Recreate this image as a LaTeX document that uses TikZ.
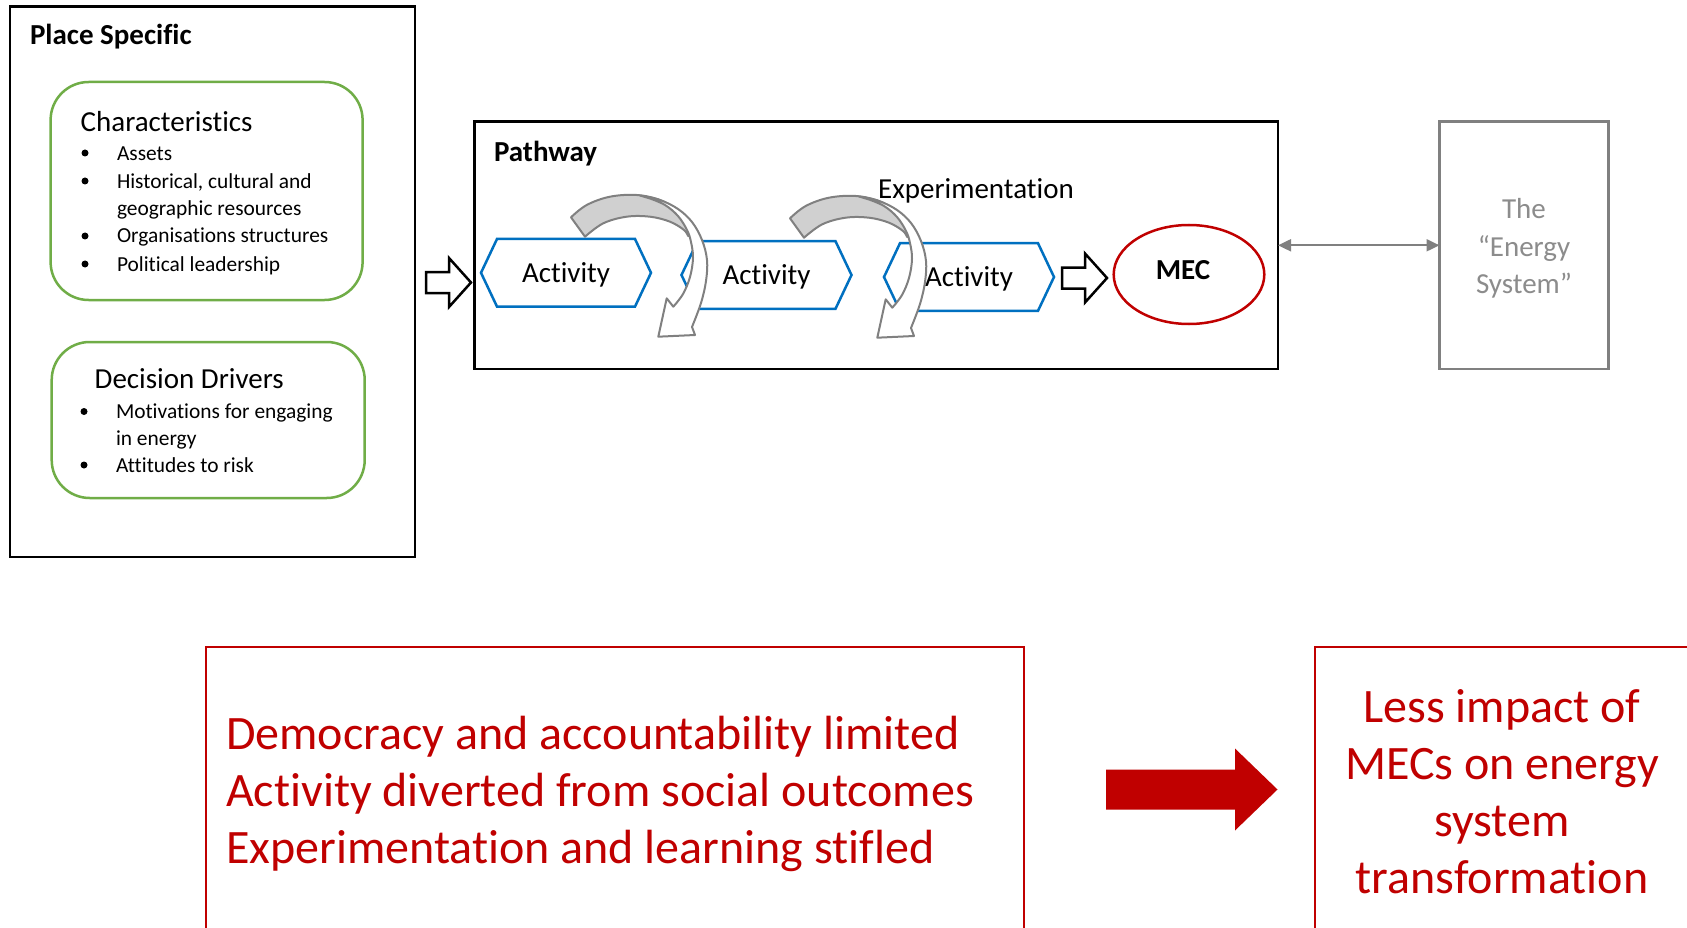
\documentclass[tikz,border=0pt]{standalone}
\usepackage{fontspec}
\setmainfont{Carlito}[Ligatures=NoCommon]
\usetikzlibrary{arrows.meta,shapes.geometric}
\definecolor{grn}{HTML}{70AD47}
\definecolor{blu}{HTML}{0070C0}
\definecolor{redc}{HTML}{C00000}
\definecolor{gry}{HTML}{808080}
\definecolor{lgry}{HTML}{D0D0D0}
\definecolor{txtgry}{HTML}{8C8C8C}
\newcommand\myfA{\fontsize{29pt}{35pt}\selectfont}
\newcommand\myfI{\fontsize{21.4pt}{27pt}\selectfont}
\newcommand\myfE{\fontsize{29pt}{37.7pt}\selectfont}
\newcommand\myfR{\fontsize{48pt}{57pt}\selectfont}
\newcommand\myhex[1]{\draw[actline] (#1.west) -- ([xshift=16pt]#1.north west) -- ([xshift=-16pt]#1.north east) -- (#1.east) -- ([xshift=-16pt]#1.south east) -- ([xshift=16pt]#1.south west) -- cycle;}
\newcommand\mycurved[1]{%
\begin{scope}[shift={#1}]
\filldraw[bandgray]
 plot[smooth, tension=0.6] coordinates {(571,217.3) (586.7,205) (610,196.7) (636.7,195) (660,200) (676.7,210) (690,223.3) (694,234)}
 -- plot[smooth, tension=0.6] coordinates {(688,236) (684,230) (670,221.7) (650,216.7) (626.7,216.7) (603.3,223.3) (585,236.7)} -- cycle;
\filldraw[bandwhite]
 plot[smooth, tension=0.6] coordinates {(640,195.5) (660,200) (678,209) (692,222) (702,240) (707,260) (706,281) (701,303) (692,327)}
 -- (695,335) -- (658.3,336.7) -- (666.7,298.3) -- (673.3,306.7)
 -- plot[smooth, tension=0.6] coordinates {(673.3,306.7) (683,294) (690,277) (693,258) (691,242) (687,230) (678,216) (665,205) (650,198.5)} -- cycle;
\end{scope}}
\tikzset{
 blackbox/.style={draw=black, line width=2.5pt, rectangle, inner sep=0pt, outer sep=0pt},
 greenbox/.style={draw=grn, line width=2.5pt, rectangle, rounded corners=38pt, inner sep=0pt, outer sep=0pt},
 txt/.style={inner sep=0pt, outer sep=0pt, text=black},
 bul/.style={circle, fill=black, inner sep=0pt, minimum size=7pt},
 actnode/.style={rectangle, inner sep=0pt, outer sep=0pt, minimum width=170pt, minimum height=67.6pt, text depth=0pt, font=\myfA},
 actline/.style={draw=blu, line width=2.5pt, line join=miter},
 openarrow/.style={draw=black, fill=white, line width=2.5pt, line join=miter},
 bandgray/.style={fill=lgry, draw=gry, line width=2pt, line join=round},
 bandwhite/.style={fill=white, draw=gry, line width=2pt, line join=round},
 redbox/.style={draw=redc, line width=2pt, rectangle, inner sep=0pt, outer sep=0pt},
 redtxt/.style={inner sep=0pt, text=redc, font=\myfR},
}
\begin{document}
\begin{tikzpicture}[x=1pt,y=-1pt]
\useasboundingbox (0,0) rectangle (1687,928);
\clip (0,0) rectangle (1687,928);
\fill[white] (0,0) rectangle (1687,928);

% Place specific
\node[blackbox, minimum width=405.3pt, minimum height=550.5pt] (place) at (212.4,281.8) {};
\node[txt, anchor=base west, font=\myfA\bfseries] (placetitle) at (30,45) {Place Specific};

\node[greenbox, minimum width=312pt, minimum height=218pt] (charbox) at (206.6,191) {};
\node[txt, anchor=base west, font=\myfA] (chartitle) at (80.7,131.5) {Characteristics};
\node[bul] (cb1) at (85,153) {};
\node[bul] (cb2) at (85,181) {};
\node[bul] (cb3) at (85,236) {};
\node[bul] (cb4) at (85,264) {};
\node[txt, anchor=base west, font=\myfI] (ci1) at (117,160.2) {Assets};
\node[txt, anchor=base west, font=\myfI] (ci2) at (117,188.2) {Historical, cultural and};
\node[txt, anchor=base west, font=\myfI] (ci2b) at (117,215.2) {geographic resources};
\node[txt, anchor=base west, font=\myfI] (ci3) at (117,243) {Organisations structures};
\node[txt, anchor=base west, font=\myfI] (ci4) at (117,271) {Political leadership};

\node[greenbox, minimum width=313pt, minimum height=156pt] (decbox) at (208.2,420) {};
\node[txt, anchor=base west, font=\myfA] (dectitle) at (94.7,388.5) {Decision Drivers};
\node[bul] (db1) at (84,411.5) {};
\node[bul] (db2) at (84,465) {};
\node[txt, anchor=base west, font=\myfI] (di1) at (116,418.5) {Motivations for engaging};
\node[txt, anchor=base west, font=\myfI] (di1b) at (116,445.5) {in energy};
\node[txt, anchor=base west, font=\myfI] (di2) at (116,472.2) {Attitudes to risk};

% Pathway
\node[blackbox, minimum width=803.5pt, minimum height=247.4pt] (path) at (876.25,245.3) {};
\node[txt, anchor=base west, font=\myfA\bfseries] (pathtitle) at (494,161.5) {Pathway};

\coordinate (oa1) at (426,282.5);
\draw[openarrow] (oa1) ++(0,-10.5) -- ++(23,0) -- ++(0,-14) -- ++(22,24.5) -- ++(-22,24.5) -- ++(0,-14) -- ++(-23,0) -- cycle;

\node[actnode] (act1) at (566,272.8) {Activity};
\node[actnode] (act2) at (766.5,275) {Activity};
\node[actnode] (act3) at (969,277) {Activity};
\myhex{act1}
\myhex{act2}
\myhex{act3}

\mycurved{(0,0)}
\mycurved{(219,1)}

\node[txt, anchor=base, font=\myfA] (exper) at (976,198.5) {Experimentation};

\coordinate (oa2) at (1062,278);
\draw[openarrow] (oa2) ++(0,-10.5) -- ++(23,0) -- ++(0,-14) -- ++(22,24.5) -- ++(-22,24.5) -- ++(0,-14) -- ++(-23,0) -- cycle;

\node[ellipse, draw=redc, line width=2.5pt, minimum width=150.6pt, minimum height=99pt, inner sep=0pt] (mec) at (1189,274.5) {};
\node[txt, font=\myfA\bfseries] (mectext) at ([xshift=-6pt,yshift=4pt]mec.center) {MEC};

% Energy system
\node[draw=gry, line width=2.5pt, rectangle, inner sep=0pt, outer sep=0pt, minimum width=169pt, minimum height=247.4pt] (energy) at (1524,245.3) {};
\node[txt, text=txtgry, align=center, font=\myfE] (energytext) at (1524,248.5) {The\\“Energy\\System”};
\draw[gry, line width=2pt, {Triangle[length=13pt,width=12pt]}-{Triangle[length=13pt,width=12pt]}] (path.east) -- (energy.west);

% Bottom
\node[redbox, anchor=north west, minimum width=818.5pt, minimum height=400pt] (red1) at (205.5,646.6) {};
\node[redtxt, anchor=west, align=left] (red1text) at (226,794) {Democracy and accountability limited\\Activity diverted from social outcomes\\Experimentation and learning stifled};

\node[redbox, anchor=north west, minimum width=500pt, minimum height=400pt] (red2) at (1314.7,646.6) {};
\node[redtxt, align=center] (red2text) at (1502,791.5) {Less impact of\\MECs on energy\\system\\transformation};

\coordinate (ra) at (1106,789.5);
\fill[redc] (ra) ++(0,-20) -- ++(129,0) -- ++(0,-21) -- ++(42.5,41) -- ++(-42.5,41) -- ++(0,-21) -- ++(-129,0) -- cycle;
\end{tikzpicture}
\end{document}
